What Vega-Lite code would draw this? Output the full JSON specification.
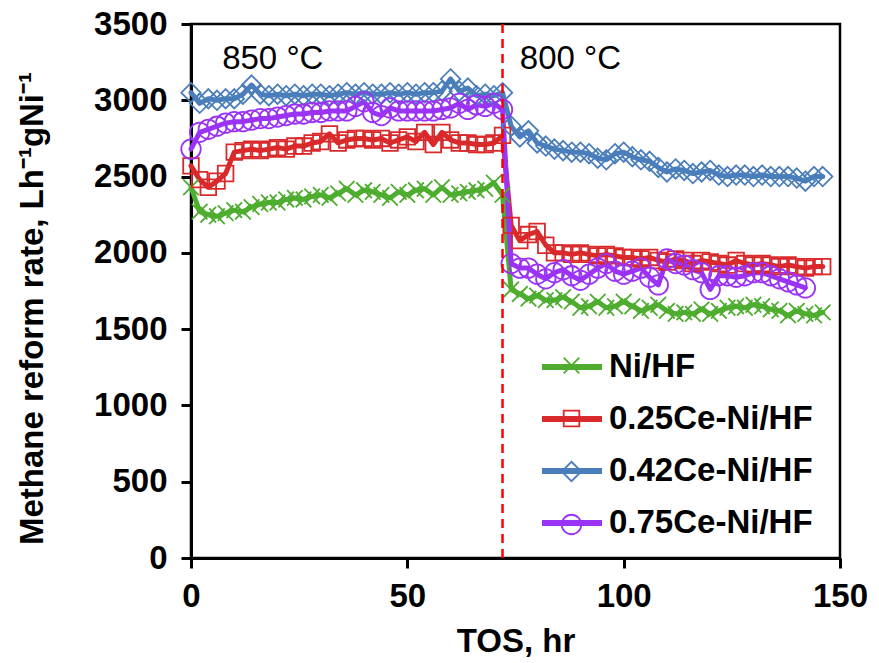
{
  "$schema": "https://vega.github.io/schema/vega-lite/v6.json",
  "width": 649,
  "height": 534,
  "autosize": "none",
  "padding": {"left": 191, "top": 24, "right": 39, "bottom": 105},
  "background": "white",
  "config": {
    "font": "Liberation Sans",
    "view": {"stroke": "black", "strokeWidth": 2.5}
  },
  "datasets": {
    "rates": [
      {"s":"Ni/HF","t":0,"v":2430},{"s":"Ni/HF","t":2,"v":2270},{"s":"Ni/HF","t":4,"v":2250},{"s":"Ni/HF","t":6,"v":2240},{"s":"Ni/HF","t":8,"v":2260},{"s":"Ni/HF","t":10,"v":2280},{"s":"Ni/HF","t":12,"v":2270},{"s":"Ni/HF","t":14,"v":2300},{"s":"Ni/HF","t":16,"v":2320},{"s":"Ni/HF","t":18,"v":2330},{"s":"Ni/HF","t":20,"v":2330},{"s":"Ni/HF","t":22,"v":2350},{"s":"Ni/HF","t":24,"v":2360},{"s":"Ni/HF","t":26,"v":2350},{"s":"Ni/HF","t":28,"v":2370},{"s":"Ni/HF","t":30,"v":2380},{"s":"Ni/HF","t":32,"v":2360},{"s":"Ni/HF","t":34,"v":2390},{"s":"Ni/HF","t":36,"v":2420},{"s":"Ni/HF","t":38,"v":2380},{"s":"Ni/HF","t":40,"v":2410},{"s":"Ni/HF","t":42,"v":2400},{"s":"Ni/HF","t":44,"v":2380},{"s":"Ni/HF","t":46,"v":2360},{"s":"Ni/HF","t":48,"v":2400},{"s":"Ni/HF","t":50,"v":2380},{"s":"Ni/HF","t":52,"v":2410},{"s":"Ni/HF","t":54,"v":2420},{"s":"Ni/HF","t":56,"v":2380},{"s":"Ni/HF","t":58,"v":2430},{"s":"Ni/HF","t":60,"v":2380},{"s":"Ni/HF","t":62,"v":2390},{"s":"Ni/HF","t":64,"v":2400},{"s":"Ni/HF","t":66,"v":2410},{"s":"Ni/HF","t":68,"v":2420},{"s":"Ni/HF","t":70,"v":2460},{"s":"Ni/HF","t":72,"v":2380},
      {"s":"Ni/HF","t":74,"v":1760},{"s":"Ni/HF","t":76,"v":1730},{"s":"Ni/HF","t":78,"v":1700},{"s":"Ni/HF","t":80,"v":1720},{"s":"Ni/HF","t":82,"v":1690},{"s":"Ni/HF","t":84,"v":1690},{"s":"Ni/HF","t":86,"v":1710},{"s":"Ni/HF","t":88,"v":1680},{"s":"Ni/HF","t":90,"v":1640},{"s":"Ni/HF","t":92,"v":1650},{"s":"Ni/HF","t":94,"v":1680},{"s":"Ni/HF","t":96,"v":1640},{"s":"Ni/HF","t":98,"v":1650},{"s":"Ni/HF","t":100,"v":1680},{"s":"Ni/HF","t":102,"v":1650},{"s":"Ni/HF","t":104,"v":1620},{"s":"Ni/HF","t":106,"v":1640},{"s":"Ni/HF","t":108,"v":1660},{"s":"Ni/HF","t":110,"v":1620},{"s":"Ni/HF","t":112,"v":1600},{"s":"Ni/HF","t":114,"v":1610},{"s":"Ni/HF","t":116,"v":1600},{"s":"Ni/HF","t":118,"v":1630},{"s":"Ni/HF","t":120,"v":1600},{"s":"Ni/HF","t":122,"v":1620},{"s":"Ni/HF","t":124,"v":1640},{"s":"Ni/HF","t":126,"v":1650},{"s":"Ni/HF","t":128,"v":1640},{"s":"Ni/HF","t":130,"v":1660},{"s":"Ni/HF","t":132,"v":1650},{"s":"Ni/HF","t":134,"v":1630},{"s":"Ni/HF","t":136,"v":1620},{"s":"Ni/HF","t":138,"v":1590},{"s":"Ni/HF","t":140,"v":1620},{"s":"Ni/HF","t":142,"v":1600},{"s":"Ni/HF","t":144,"v":1590},{"s":"Ni/HF","t":146,"v":1610},
      {"s":"0.25Ce-Ni/HF","t":0,"v":2570},{"s":"0.25Ce-Ni/HF","t":2,"v":2480},{"s":"0.25Ce-Ni/HF","t":4,"v":2430},{"s":"0.25Ce-Ni/HF","t":6,"v":2470},{"s":"0.25Ce-Ni/HF","t":8,"v":2520},{"s":"0.25Ce-Ni/HF","t":10,"v":2660},{"s":"0.25Ce-Ni/HF","t":12,"v":2670},{"s":"0.25Ce-Ni/HF","t":14,"v":2680},{"s":"0.25Ce-Ni/HF","t":16,"v":2670},{"s":"0.25Ce-Ni/HF","t":18,"v":2680},{"s":"0.25Ce-Ni/HF","t":20,"v":2690},{"s":"0.25Ce-Ni/HF","t":22,"v":2680},{"s":"0.25Ce-Ni/HF","t":24,"v":2700},{"s":"0.25Ce-Ni/HF","t":26,"v":2700},{"s":"0.25Ce-Ni/HF","t":28,"v":2720},{"s":"0.25Ce-Ni/HF","t":30,"v":2730},{"s":"0.25Ce-Ni/HF","t":32,"v":2780},{"s":"0.25Ce-Ni/HF","t":34,"v":2720},{"s":"0.25Ce-Ni/HF","t":36,"v":2740},{"s":"0.25Ce-Ni/HF","t":38,"v":2750},{"s":"0.25Ce-Ni/HF","t":40,"v":2750},{"s":"0.25Ce-Ni/HF","t":42,"v":2740},{"s":"0.25Ce-Ni/HF","t":44,"v":2750},{"s":"0.25Ce-Ni/HF","t":46,"v":2720},{"s":"0.25Ce-Ni/HF","t":48,"v":2740},{"s":"0.25Ce-Ni/HF","t":50,"v":2760},{"s":"0.25Ce-Ni/HF","t":52,"v":2730},{"s":"0.25Ce-Ni/HF","t":54,"v":2790},{"s":"0.25Ce-Ni/HF","t":56,"v":2710},{"s":"0.25Ce-Ni/HF","t":58,"v":2790},{"s":"0.25Ce-Ni/HF","t":60,"v":2740},{"s":"0.25Ce-Ni/HF","t":62,"v":2720},{"s":"0.25Ce-Ni/HF","t":64,"v":2720},{"s":"0.25Ce-Ni/HF","t":66,"v":2710},{"s":"0.25Ce-Ni/HF","t":68,"v":2710},{"s":"0.25Ce-Ni/HF","t":70,"v":2720},{"s":"0.25Ce-Ni/HF","t":72,"v":2770},
      {"s":"0.25Ce-Ni/HF","t":74,"v":2180},{"s":"0.25Ce-Ni/HF","t":76,"v":2080},{"s":"0.25Ce-Ni/HF","t":78,"v":2120},{"s":"0.25Ce-Ni/HF","t":80,"v":2140},{"s":"0.25Ce-Ni/HF","t":82,"v":2050},{"s":"0.25Ce-Ni/HF","t":84,"v":2000},{"s":"0.25Ce-Ni/HF","t":86,"v":2000},{"s":"0.25Ce-Ni/HF","t":88,"v":1990},{"s":"0.25Ce-Ni/HF","t":90,"v":2000},{"s":"0.25Ce-Ni/HF","t":92,"v":1990},{"s":"0.25Ce-Ni/HF","t":94,"v":1980},{"s":"0.25Ce-Ni/HF","t":96,"v":1990},{"s":"0.25Ce-Ni/HF","t":98,"v":1980},{"s":"0.25Ce-Ni/HF","t":100,"v":1970},{"s":"0.25Ce-Ni/HF","t":102,"v":1970},{"s":"0.25Ce-Ni/HF","t":104,"v":1960},{"s":"0.25Ce-Ni/HF","t":106,"v":1970},{"s":"0.25Ce-Ni/HF","t":108,"v":1950},{"s":"0.25Ce-Ni/HF","t":110,"v":1940},{"s":"0.25Ce-Ni/HF","t":112,"v":1960},{"s":"0.25Ce-Ni/HF","t":114,"v":1950},{"s":"0.25Ce-Ni/HF","t":116,"v":1930},{"s":"0.25Ce-Ni/HF","t":118,"v":1950},{"s":"0.25Ce-Ni/HF","t":120,"v":1940},{"s":"0.25Ce-Ni/HF","t":122,"v":1930},{"s":"0.25Ce-Ni/HF","t":124,"v":1920},{"s":"0.25Ce-Ni/HF","t":126,"v":1950},{"s":"0.25Ce-Ni/HF","t":128,"v":1930},{"s":"0.25Ce-Ni/HF","t":130,"v":1920},{"s":"0.25Ce-Ni/HF","t":132,"v":1930},{"s":"0.25Ce-Ni/HF","t":134,"v":1920},{"s":"0.25Ce-Ni/HF","t":136,"v":1910},{"s":"0.25Ce-Ni/HF","t":138,"v":1920},{"s":"0.25Ce-Ni/HF","t":140,"v":1910},{"s":"0.25Ce-Ni/HF","t":142,"v":1900},{"s":"0.25Ce-Ni/HF","t":144,"v":1910},{"s":"0.25Ce-Ni/HF","t":146,"v":1910},
      {"s":"0.42Ce-Ni/HF","t":0,"v":3050},{"s":"0.42Ce-Ni/HF","t":2,"v":2980},{"s":"0.42Ce-Ni/HF","t":4,"v":3010},{"s":"0.42Ce-Ni/HF","t":6,"v":3000},{"s":"0.42Ce-Ni/HF","t":8,"v":3010},{"s":"0.42Ce-Ni/HF","t":10,"v":3010},{"s":"0.42Ce-Ni/HF","t":12,"v":3040},{"s":"0.42Ce-Ni/HF","t":14,"v":3100},{"s":"0.42Ce-Ni/HF","t":16,"v":3040},{"s":"0.42Ce-Ni/HF","t":18,"v":3030},{"s":"0.42Ce-Ni/HF","t":20,"v":3040},{"s":"0.42Ce-Ni/HF","t":22,"v":3030},{"s":"0.42Ce-Ni/HF","t":24,"v":3040},{"s":"0.42Ce-Ni/HF","t":26,"v":3030},{"s":"0.42Ce-Ni/HF","t":28,"v":3040},{"s":"0.42Ce-Ni/HF","t":30,"v":3040},{"s":"0.42Ce-Ni/HF","t":32,"v":3030},{"s":"0.42Ce-Ni/HF","t":34,"v":3040},{"s":"0.42Ce-Ni/HF","t":36,"v":3050},{"s":"0.42Ce-Ni/HF","t":38,"v":3040},{"s":"0.42Ce-Ni/HF","t":40,"v":3050},{"s":"0.42Ce-Ni/HF","t":42,"v":3040},{"s":"0.42Ce-Ni/HF","t":44,"v":3040},{"s":"0.42Ce-Ni/HF","t":46,"v":3050},{"s":"0.42Ce-Ni/HF","t":48,"v":3040},{"s":"0.42Ce-Ni/HF","t":50,"v":3050},{"s":"0.42Ce-Ni/HF","t":52,"v":3040},{"s":"0.42Ce-Ni/HF","t":54,"v":3050},{"s":"0.42Ce-Ni/HF","t":56,"v":3050},{"s":"0.42Ce-Ni/HF","t":58,"v":3060},{"s":"0.42Ce-Ni/HF","t":60,"v":3140},{"s":"0.42Ce-Ni/HF","t":62,"v":3060},{"s":"0.42Ce-Ni/HF","t":64,"v":3080},{"s":"0.42Ce-Ni/HF","t":66,"v":3030},{"s":"0.42Ce-Ni/HF","t":68,"v":3040},{"s":"0.42Ce-Ni/HF","t":70,"v":3030},{"s":"0.42Ce-Ni/HF","t":72,"v":3050},
      {"s":"0.42Ce-Ni/HF","t":74,"v":2830},{"s":"0.42Ce-Ni/HF","t":76,"v":2760},{"s":"0.42Ce-Ni/HF","t":78,"v":2800},{"s":"0.42Ce-Ni/HF","t":80,"v":2720},{"s":"0.42Ce-Ni/HF","t":82,"v":2700},{"s":"0.42Ce-Ni/HF","t":84,"v":2680},{"s":"0.42Ce-Ni/HF","t":86,"v":2670},{"s":"0.42Ce-Ni/HF","t":88,"v":2660},{"s":"0.42Ce-Ni/HF","t":90,"v":2660},{"s":"0.42Ce-Ni/HF","t":92,"v":2650},{"s":"0.42Ce-Ni/HF","t":94,"v":2620},{"s":"0.42Ce-Ni/HF","t":96,"v":2610},{"s":"0.42Ce-Ni/HF","t":98,"v":2650},{"s":"0.42Ce-Ni/HF","t":100,"v":2660},{"s":"0.42Ce-Ni/HF","t":102,"v":2630},{"s":"0.42Ce-Ni/HF","t":104,"v":2610},{"s":"0.42Ce-Ni/HF","t":106,"v":2600},{"s":"0.42Ce-Ni/HF","t":108,"v":2560},{"s":"0.42Ce-Ni/HF","t":110,"v":2530},{"s":"0.42Ce-Ni/HF","t":112,"v":2550},{"s":"0.42Ce-Ni/HF","t":114,"v":2540},{"s":"0.42Ce-Ni/HF","t":116,"v":2520},{"s":"0.42Ce-Ni/HF","t":118,"v":2530},{"s":"0.42Ce-Ni/HF","t":120,"v":2540},{"s":"0.42Ce-Ni/HF","t":122,"v":2510},{"s":"0.42Ce-Ni/HF","t":124,"v":2500},{"s":"0.42Ce-Ni/HF","t":126,"v":2510},{"s":"0.42Ce-Ni/HF","t":128,"v":2510},{"s":"0.42Ce-Ni/HF","t":130,"v":2500},{"s":"0.42Ce-Ni/HF","t":132,"v":2510},{"s":"0.42Ce-Ni/HF","t":134,"v":2500},{"s":"0.42Ce-Ni/HF","t":136,"v":2500},{"s":"0.42Ce-Ni/HF","t":138,"v":2500},{"s":"0.42Ce-Ni/HF","t":140,"v":2490},{"s":"0.42Ce-Ni/HF","t":142,"v":2470},{"s":"0.42Ce-Ni/HF","t":144,"v":2500},{"s":"0.42Ce-Ni/HF","t":146,"v":2500},
      {"s":"0.75Ce-Ni/HF","t":0,"v":2680},{"s":"0.75Ce-Ni/HF","t":2,"v":2790},{"s":"0.75Ce-Ni/HF","t":4,"v":2810},{"s":"0.75Ce-Ni/HF","t":6,"v":2830},{"s":"0.75Ce-Ni/HF","t":8,"v":2850},{"s":"0.75Ce-Ni/HF","t":10,"v":2860},{"s":"0.75Ce-Ni/HF","t":12,"v":2860},{"s":"0.75Ce-Ni/HF","t":14,"v":2870},{"s":"0.75Ce-Ni/HF","t":16,"v":2880},{"s":"0.75Ce-Ni/HF","t":18,"v":2880},{"s":"0.75Ce-Ni/HF","t":20,"v":2890},{"s":"0.75Ce-Ni/HF","t":22,"v":2900},{"s":"0.75Ce-Ni/HF","t":24,"v":2910},{"s":"0.75Ce-Ni/HF","t":26,"v":2910},{"s":"0.75Ce-Ni/HF","t":28,"v":2920},{"s":"0.75Ce-Ni/HF","t":30,"v":2920},{"s":"0.75Ce-Ni/HF","t":32,"v":2930},{"s":"0.75Ce-Ni/HF","t":34,"v":2930},{"s":"0.75Ce-Ni/HF","t":36,"v":2930},{"s":"0.75Ce-Ni/HF","t":38,"v":2960},{"s":"0.75Ce-Ni/HF","t":40,"v":2990},{"s":"0.75Ce-Ni/HF","t":42,"v":2920},{"s":"0.75Ce-Ni/HF","t":44,"v":2900},{"s":"0.75Ce-Ni/HF","t":46,"v":2950},{"s":"0.75Ce-Ni/HF","t":48,"v":2930},{"s":"0.75Ce-Ni/HF","t":50,"v":2930},{"s":"0.75Ce-Ni/HF","t":52,"v":2930},{"s":"0.75Ce-Ni/HF","t":54,"v":2930},{"s":"0.75Ce-Ni/HF","t":56,"v":2930},{"s":"0.75Ce-Ni/HF","t":58,"v":2940},{"s":"0.75Ce-Ni/HF","t":60,"v":2950},{"s":"0.75Ce-Ni/HF","t":62,"v":2980},{"s":"0.75Ce-Ni/HF","t":64,"v":2940},{"s":"0.75Ce-Ni/HF","t":66,"v":2970},{"s":"0.75Ce-Ni/HF","t":68,"v":2960},{"s":"0.75Ce-Ni/HF","t":70,"v":2980},{"s":"0.75Ce-Ni/HF","t":72,"v":2940},
      {"s":"0.75Ce-Ni/HF","t":74,"v":1930},{"s":"0.75Ce-Ni/HF","t":76,"v":1900},{"s":"0.75Ce-Ni/HF","t":78,"v":1900},{"s":"0.75Ce-Ni/HF","t":80,"v":1860},{"s":"0.75Ce-Ni/HF","t":82,"v":1830},{"s":"0.75Ce-Ni/HF","t":84,"v":1870},{"s":"0.75Ce-Ni/HF","t":86,"v":1890},{"s":"0.75Ce-Ni/HF","t":88,"v":1850},{"s":"0.75Ce-Ni/HF","t":90,"v":1820},{"s":"0.75Ce-Ni/HF","t":92,"v":1860},{"s":"0.75Ce-Ni/HF","t":94,"v":1900},{"s":"0.75Ce-Ni/HF","t":96,"v":1930},{"s":"0.75Ce-Ni/HF","t":98,"v":1880},{"s":"0.75Ce-Ni/HF","t":100,"v":1860},{"s":"0.75Ce-Ni/HF","t":102,"v":1880},{"s":"0.75Ce-Ni/HF","t":104,"v":1900},{"s":"0.75Ce-Ni/HF","t":106,"v":1840},{"s":"0.75Ce-Ni/HF","t":108,"v":1790},{"s":"0.75Ce-Ni/HF","t":110,"v":1960},{"s":"0.75Ce-Ni/HF","t":112,"v":1930},{"s":"0.75Ce-Ni/HF","t":114,"v":1920},{"s":"0.75Ce-Ni/HF","t":116,"v":1890},{"s":"0.75Ce-Ni/HF","t":118,"v":1870},{"s":"0.75Ce-Ni/HF","t":120,"v":1760},{"s":"0.75Ce-Ni/HF","t":122,"v":1850},{"s":"0.75Ce-Ni/HF","t":124,"v":1850},{"s":"0.75Ce-Ni/HF","t":126,"v":1840},{"s":"0.75Ce-Ni/HF","t":128,"v":1850},{"s":"0.75Ce-Ni/HF","t":130,"v":1870},{"s":"0.75Ce-Ni/HF","t":132,"v":1870},{"s":"0.75Ce-Ni/HF","t":134,"v":1850},{"s":"0.75Ce-Ni/HF","t":136,"v":1830},{"s":"0.75Ce-Ni/HF","t":138,"v":1810},{"s":"0.75Ce-Ni/HF","t":140,"v":1790},{"s":"0.75Ce-Ni/HF","t":142,"v":1770}
    ],
    "switch": [{"t": 72}],
    "notes": [
      {"label": "850 °C", "t": 7.2, "v": 3270},
      {"label": "800 °C", "t": 76, "v": 3270}
    ]
  },
  "layer": [
    {
      "data": {"name": "rates"},
      "mark": {"type": "line", "strokeWidth": 5, "strokeJoin": "round", "strokeCap": "round"},
      "encoding": {
        "x": {
          "field": "t", "type": "quantitative",
          "scale": {"domain": [0, 150], "nice": false},
          "axis": {
            "title": "TOS, hr", "values": [0, 50, 100, 150], "grid": false, "format": "d",
            "labelFontSize": 33, "labelFontWeight": "bold", "labelColor": "black", "labelFont": "Liberation Sans",
            "titleFontSize": 33, "titleFontWeight": "bold", "titleColor": "black", "titleFont": "Liberation Sans",
            "domainColor": "black", "domainWidth": 3, "tickColor": "black", "tickWidth": 3, "tickSize": 10,
            "labelPadding": 12, "titlePadding": 12, "labelFlush": false
          }
        },
        "y": {
          "field": "v", "type": "quantitative",
          "scale": {"domain": [0, 3500], "nice": false},
          "axis": {
            "title": "Methane reform rate, Lh⁻¹gNi⁻¹", "values": [0, 500, 1000, 1500, 2000, 2500, 3000, 3500], "grid": false, "format": "d",
            "labelFontSize": 33, "labelFontWeight": "bold", "labelColor": "black", "labelFont": "Liberation Sans",
            "titleFontSize": 33, "titleFontWeight": "bold", "titleColor": "black", "titleFont": "Liberation Sans",
            "domainColor": "black", "domainWidth": 3, "tickColor": "black", "tickWidth": 3, "tickSize": 10,
            "labelPadding": 14, "titlePadding": 44, "titleY": 284, "labelFlush": false
          }
        },
        "color": {
          "field": "s", "type": "nominal",
          "sort": ["Ni/HF", "0.25Ce-Ni/HF", "0.42Ce-Ni/HF", "0.75Ce-Ni/HF"],
          "scale": {"range": ["#4EAD2F", "#D9292B", "#4A7EBB", "#9B33F5"]},
          "legend": {
            "orient": "none", "legendX": 348, "legendY": 310, "title": null, "padding": 0,
            "symbolType": "stroke", "symbolSize": 3600, "symbolStrokeWidth": 6,
            "labelFontSize": 33, "labelFontWeight": "bold", "labelColor": "black", "labelFont": "Liberation Sans",
            "labelLimit": 400, "rowPadding": 2, "labelOffset": 4
          }
        }
      }
    },
    {
      "data": {"name": "rates"},
      "mark": {"type": "point", "filled": false, "size": 380, "strokeWidth": 1.8, "opacity": 1},
      "encoding": {
        "x": {"field": "t", "type": "quantitative"},
        "y": {"field": "v", "type": "quantitative"},
        "stroke": {
          "field": "s", "type": "nominal",
          "scale": {
            "domain": ["Ni/HF", "0.25Ce-Ni/HF", "0.42Ce-Ni/HF", "0.75Ce-Ni/HF"],
            "range": ["#4EAD2F", "#D9292B", "#4A7EBB", "#9B33F5"]
          },
          "legend": {
            "orient": "none", "legendX": 364, "legendY": 325, "title": null, "padding": 0,
            "symbolSize": 380, "symbolStrokeWidth": 1.8, "labelOpacity": 0, "symbolFillColor": "white",
            "labelFontSize": 33, "labelFontWeight": "bold", "labelFont": "Liberation Sans",
            "labelLimit": 400, "rowPadding": 19, "labelOffset": 6,
            "encode": {"symbols": {"fill": {"value": "white"}, "fillOpacity": {"value": 1}, "opacity": {"value": 1}}}
          }
        },
        "shape": {
          "field": "s", "type": "nominal",
          "scale": {
            "domain": ["Ni/HF", "0.25Ce-Ni/HF", "0.42Ce-Ni/HF", "0.75Ce-Ni/HF"],
            "range": [
              "M-0.8,-0.8L0.8,0.8M0.8,-0.8L-0.8,0.8",
              "M-0.8,-0.8H0.8V0.8H-0.8Z",
              "M0,-1L1,0L0,1L-1,0Z",
              "M1,0A1,1,0,1,1,-1,0A1,1,0,1,1,1,0Z"
            ]
          },
          "legend": {
            "orient": "none", "legendX": 364, "legendY": 325, "title": null, "padding": 0,
            "symbolSize": 380, "symbolStrokeWidth": 1.8, "labelOpacity": 0, "symbolFillColor": "white",
            "labelFontSize": 33, "labelFontWeight": "bold", "labelFont": "Liberation Sans",
            "labelLimit": 400, "rowPadding": 19, "labelOffset": 6,
            "encode": {"symbols": {"fill": {"value": "white"}, "fillOpacity": {"value": 1}, "opacity": {"value": 1}}}
          }
        }
      }
    },
    {
      "data": {"name": "switch"},
      "mark": {"type": "rule", "color": "#FF0000", "strokeDash": [9, 6], "strokeWidth": 2.5},
      "encoding": {"x": {"field": "t", "type": "quantitative"}}
    },
    {
      "data": {"name": "notes"},
      "mark": {"type": "text", "align": "left", "baseline": "middle", "fontSize": 33, "font": "Liberation Sans", "color": "black"},
      "encoding": {
        "x": {"field": "t", "type": "quantitative"},
        "y": {"field": "v", "type": "quantitative"},
        "text": {"field": "label", "type": "nominal"}
      }
    }
  ]
}
